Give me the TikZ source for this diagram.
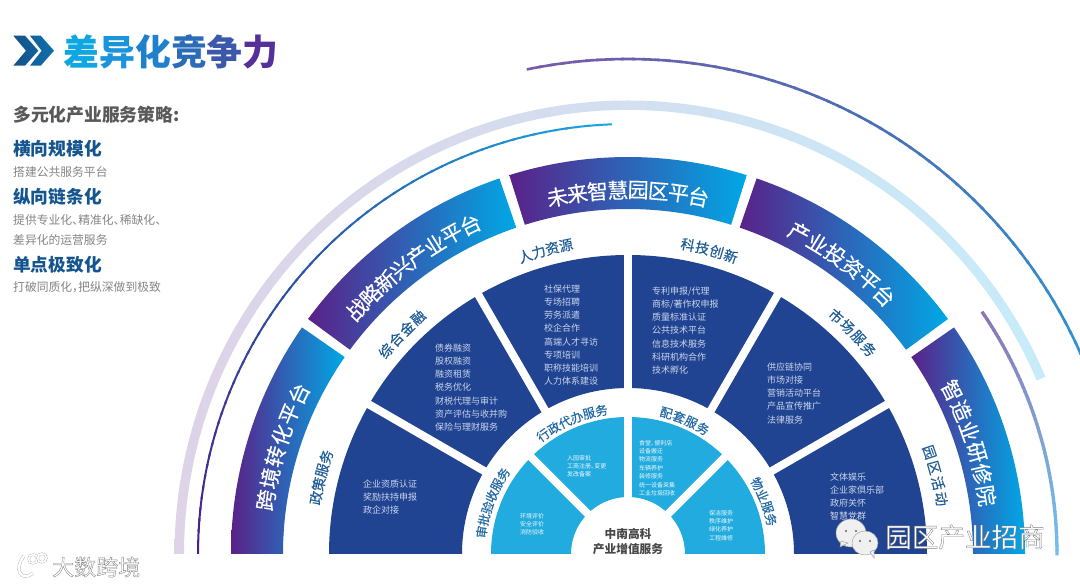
\documentclass[tikz,border=0pt]{standalone}
\usepackage{fontspec}
\setmainfont{Noto Sans CJK SC}
\newfontfamily\medcjk[FakeBold=0.22]{Noto Sans CJK SC}
\definecolor{bandP}{HTML}{5A2188}
\definecolor{bandM}{HTML}{2F62B5}
\definecolor{bandC}{HTML}{00A8E6}
\definecolor{darkSec}{HTML}{204392}
\definecolor{lightSec}{HTML}{22ABDF}
\definecolor{midLab}{HTML}{1E5C98}
\definecolor{headBlue}{HTML}{15558F}
\definecolor{secTxt}{HTML}{CBD6EA}
\definecolor{tA}{HTML}{0FA6E2}
\definecolor{tB}{HTML}{1A94DA}
\definecolor{tC}{HTML}{1F80CC}
\definecolor{tD}{HTML}{2A6CB8}
\definecolor{tE}{HTML}{3C58AB}
\definecolor{tF}{HTML}{55309A}
\definecolor{arcTopA}{HTML}{7A5AA8}
\definecolor{arcTopB}{HTML}{4A6FB5}
\definecolor{arcTopC}{HTML}{2F95D2}
\definecolor{arcLeftA}{HTML}{4A1F88}
\definecolor{arcLeftB}{HTML}{2A56A8}
\definecolor{arcLeftC}{HTML}{1BA5E0}
\definecolor{arcRightA}{HTML}{8A74B5}
\definecolor{arcRightB}{HTML}{7F9FD0}
\definecolor{arcRightC}{HTML}{70C0EA}
\newcommand{\annulus}[4]{(#1:#3pt) arc[start angle=#1,end angle=#2,radius=#3pt] -- (#2:#4pt) arc[start angle=#2,end angle=#1,radius=#4pt] -- cycle}
\newcommand{\bandseg}[2]{%
  \shade[left color=bandP,middle color=bandM,right color=bandC] \annulus{#1}{#2}{397}{345};}
\newcommand{\gradarc}[7]{%
  \foreach \s in {1,...,60} {
    \pgfmathsetmacro\sa{#2+(#3-#2)*(\s-1)/60}
    \pgfmathsetmacro\sb{#2+(#3-#2)*(\s+0.3)/60}
    \pgfmathsetmacro\pc{\s<=30 ? (30-\s)/30*100 : (60-\s)/30*100}
    \ifnum\s<31 \colorlet{segc}{#5!\pc!#6}\else \colorlet{segc}{#6!\pc!#7}\fi
    \draw[draw=segc,line width=#4pt] (\sa:#1pt) arc[start angle=\sa,end angle=\sb,radius=#1pt];
  }}
\newcommand{\arclabel}[6]{%
  \foreach \ch [count=\k] in {#6} {\global\let\nch\k}
  \foreach \ch [count=\k] in {#6} {
    \pgfmathsetmacro\ang{#3+(\nch+1)/2*#4-\k*#4}
    \pgfmathsetmacro\rot{\ang-90}
    \node[#5,rotate=\rot,name=#1-\k] at (\ang:#2pt) {\ch};
  }}
\newcommand{\hp}[1]{\makebox[0.52em][l]{#1}}
\tikzset{
  bandtxt/.style={text=white,inner sep=0pt,font=\medcjk\fontsize{21}{21}\selectfont},
  midtxt/.style={text=midLab,inner sep=0pt,font=\medcjk\fontsize{14}{14}\selectfont},
  inntxt/.style={text=midLab!85!lightSec,inner sep=0pt,font=\medcjk\fontsize{12.5}{12.5}\selectfont},
  blocktxt/.style={text=secTxt,inner sep=0pt,anchor=north west,align=left,font=\fontsize{9}{13.2}\selectfont},
  smalltxt/.style={text=white!92!lightSec,inner sep=0pt,anchor=north west,align=left,font=\fontsize{6}{8.35}\selectfont},
  headtxt/.style={text=headBlue,inner sep=0pt,anchor=west,font=\bfseries\fontsize{17.7}{18}\selectfont},
  subtxt/.style={text=black!48,inner sep=0pt,anchor=west,font=\fontsize{11.8}{12}\selectfont},
  radialgap/.style={draw=white,line width=8pt},
  wmark/.style={inner sep=0pt,anchor=west},
  wcbubble/.style={fill=black!6,draw=black!35,line width=.5pt}
}
\newcommand{\outlined}[1]{{\color{white}\special{pdf:code 2 Tr 0.35 w 0.5 G}#1\special{pdf:code 0 Tr 1 w 0 G}}}
\begin{document}
\begin{tikzpicture}[x=1pt,y=1pt]
\useasboundingbox[fill=white] (0,0) rectangle (1080,586);
% title
\shade[left color=headBlue!95!black,right color=headBlue!85!bandC] (13.3,550.3) -- (25,550.3) -- (38.3,535.3) -- (25,520.3) -- (13.3,520.3) -- (26,535.3) -- cycle;
\shade[left color=headBlue!85!bandC,right color=headBlue!70!bandC] (30,550.3) -- (40.7,550.3) -- (54,535.3) -- (40.7,520.3) -- (30,520.3) -- (41.7,535.3) -- cycle;
\node[inner sep=0pt,anchor=west,font=\bfseries\fontsize{35.8}{36}\selectfont] (title) at (63.5,534) {\color{tA}差\color{tB}异\color{tC}化\color{tD}竞\color{tE}争\color{tF}力};
\node[inner sep=0pt,anchor=west,text=black!65,font=\bfseries\fontsize{17.8}{18}\selectfont] (lead) at (13,471) {多元化产业服务策略:};
\node[headtxt] (h1) at (13,437) {横向规模化};
\node[subtxt] (s1) at (13,414) {搭建公共服务平台};
\node[headtxt] (h2) at (13,389) {纵向链条化};
\node[subtxt] (s2) at (13,366) {提供专业化\hp{、}精准化\hp{、}稀缺化\hp{、}};
\node[subtxt] (s3) at (13,346) {差异化的运营服务};
\node[headtxt] (h3) at (13,321) {单点极致化};
\node[subtxt] (s4) at (13,299) {打破同质化\hp{，}把纵深做到极致};
% outer arcs
\begin{scope}
  \clip[shift={(628,32)}] \annulus{180}{23}{453.5}{444};
  \shade[left color=bandP!20!white,middle color=bandM!21!white,right color=bandC!22!white] (170,30) rectangle (1050,500);
\end{scope}
\begin{scope}[shift={(628,32)}]
  \gradarc{495}{101.8}{20}{2.6}{arcTopA}{arcTopB}{arcTopC}
  \gradarc{430}{180}{92.6}{2}{arcLeftA}{arcLeftB}{arcLeftC}
  \gradarc{429}{34.4}{0}{3.3}{arcRightA}{arcRightB}{arcRightC}
  % five platform bands
  \bandseg{145.2}{180}
  \bandseg{108.9}{143.7}
  \bandseg{72.6}{107.4}
  \bandseg{36.3}{71.1}
  \bandseg{0}{34.8}
  % sectors
  \fill[darkSec] \annulus{0}{180}{299}{166};
  \foreach \a in {30,60,90,120,150} \draw[radialgap] (\a:155pt) -- (\a:305pt);
  \fill[lightSec] \annulus{0}{180}{137}{57};
  \foreach \a in {45,90,135} \draw[radialgap] (\a:50pt) -- (\a:142pt);
  % band labels
  \arclabel{b1}{366}{162.8}{3.5}{bandtxt}{跨,境,转,化,平,台}
  \arclabel{b2}{365}{126.8}{3.2}{bandtxt}{战,略,新,兴,产,业,平,台}
  \arclabel{b3}{364}{90}{3.2}{bandtxt}{未,来,智,慧,园,区,平,台}
  \arclabel{b4}{364}{53.6}{3.34}{bandtxt}{产,业,投,资,平,台}
  \arclabel{b5}{363}{18}{3.5}{bandtxt}{智,造,业,研,修,院}
  % middle labels
  \arclabel{m1}{317}{166}{2.55}{midtxt}{政,策,服,务}
  \arclabel{m2}{316}{135.8}{2.8}{midtxt}{综,合,金,融}
  \arclabel{m3}{315}{105.2}{2.55}{midtxt}{人,力,资,源}
  \arclabel{m4}{315}{75}{2.7}{midtxt}{科,技,创,新}
  \arclabel{m5}{316}{44.6}{2.8}{midtxt}{市,场,服,务}
  \arclabel{m6}{318}{14.3}{2.9}{midtxt}{园,区,活,动}
  % inner labels
  \arclabel{i1}{148}{159.4}{4.8}{inntxt}{审,批,验,收,服,务}
  \arclabel{i2}{146}{113}{5}{inntxt}{行,政,代,办,服,务}
  \arclabel{i3}{146}{67}{5.2}{inntxt}{配,套,服,务}
  \arclabel{i4}{147}{21}{5}{inntxt}{物,业,服,务}
\end{scope}
% text blocks (dark sectors)
\node[blocktxt] (d1) at (363,106.5) {企业资质认证\\奖励扶持申报\\政企对接};
\node[blocktxt] (d2) at (435,242.5) {债券融资\\股权融资\\融资租赁\\税务优化\\财税代理与审计\\资产评估与收并购\\保险与理财服务};
\node[blocktxt] (d3) at (544,301.5) {社保代理\\专场招聘\\劳务派遣\\校企合作\\高端人才寻访\\专项培训\\职称技能培训\\人力体系建设};
\node[blocktxt] (d4) at (652,299.5) {专利申报/代理\\商标/著作权申报\\质量标准认证\\公共技术平台\\信息技术服务\\科研机构合作\\技术孵化};
\node[blocktxt] (d5) at (767,223.5) {供应链协同\\市场对接\\营销活动平台\\产品宣传推广\\法律服务};
\node[blocktxt] (d6) at (830,113.5) {文体娱乐\\企业家俱乐部\\政府关怀\\智慧党群};
% text blocks (light sectors)
\node[smalltxt] (l1) at (520,73) {环境评价\\安全评价\\消防验收};
\node[smalltxt] (l2) at (567,131) {入园审批\\工商注册\hp{、}变更\\发改备案};
\node[smalltxt] (l3) at (639,146) {食堂\hp{、}便利店\\设备搬迁\\物流服务\\车辆养护\\装修服务\\统一设备采集\\工业垃圾回收};
\node[smalltxt] (l4) at (709,76) {保洁服务\\秩序维护\\绿化养护\\工程维修};
% centre
\node[inner sep=0pt,align=center,text=black!72,font=\bfseries\fontsize{11.7}{15}\selectfont] (core) at (628,44.5) {中南高科\\产业增值服务};
% watermarks
\draw[draw=black!30,double=white,double distance=2.4pt,line width=.4pt] (12.5,27) -- (12.5,9);
\draw[draw=black!30,double=white,double distance=2.4pt,line width=.4pt] (24,30) .. controls (14,18) and (20,3) .. (33,13);
\draw[draw=black!30,double=white,double distance=1.6pt,line width=.4pt] (33,27) circle[radius=4.4pt];
\draw[draw=black!30,double=white,double distance=1.6pt,line width=.4pt] (42,28) circle[radius=4.4pt];
\node[wmark,font=\fontsize{22}{22}\selectfont] (wm1) at (52,19) {\outlined{大数跨境}};
\fill[wcbubble] (851,53) ellipse[x radius=15pt,y radius=14pt];
\fill[wcbubble] (841,45) -- (840,39) -- (848,43) -- cycle;
\fill[black!60] (846,55) circle[radius=1.2pt] (856,55) circle[radius=1.2pt];
\fill[wcbubble] (865,43) ellipse[x radius=13pt,y radius=12pt];
\fill[wcbubble] (870,34) -- (874,28) -- (874,36) -- cycle;
\fill[black!60] (860,45) circle[radius=1.1pt] (870,45) circle[radius=1.1pt];
\node[wmark,font=\fontsize{26.6}{27}\selectfont] (wm2) at (885,49) {\outlined{园区产业招商}};
\end{tikzpicture}
\end{document}
